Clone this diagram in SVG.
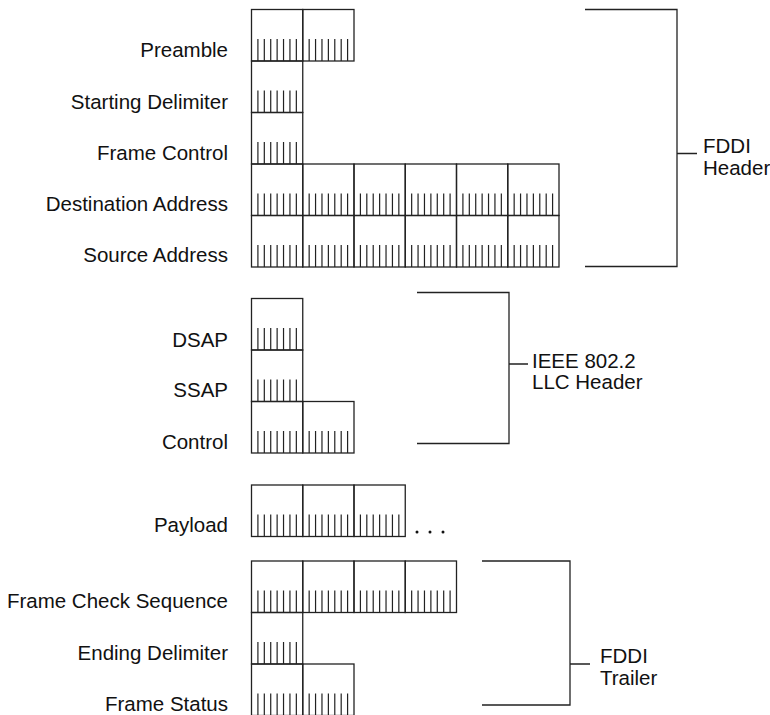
<svg xmlns="http://www.w3.org/2000/svg" xmlns:xlink="http://www.w3.org/1999/xlink" width="770" height="715" viewBox="0 0 770 715">
<style>
.lbl{font-family:"Liberation Sans",Arial,sans-serif;font-size:20.5px;fill:#111;text-anchor:end}
.br{font-family:"Liberation Sans",Arial,sans-serif;font-size:20.5px;fill:#111}
.ln{fill:none;stroke:#222;stroke-width:1.3}
.tk{fill:none;stroke:#222;stroke-width:1.2}
</style>
<defs>
<g id="byte">
<rect class="ln" x="0" y="0" width="51.25" height="51.5"/>
<path class="tk" d="M6.41,29.5V51.5M12.81,29.5V51.5M19.22,29.5V51.5M25.63,29.5V51.5M32.03,29.5V51.5M38.44,29.5V51.5M44.84,29.5V51.5"/>
</g>
</defs>
<rect width="770" height="715" fill="#fff"/>

<g id="preamble">
<text class="lbl" x="228" y="57">Preamble</text>
<use xlink:href="#byte" x="251.5" y="9.5"/><use xlink:href="#byte" x="302.75" y="9.5"/>
</g>
<g id="starting-delimiter">
<text class="lbl" x="228" y="109">Starting Delimiter</text>
<use xlink:href="#byte" x="251.5" y="61"/>
</g>
<g id="frame-control">
<text class="lbl" x="228" y="160">Frame Control</text>
<use xlink:href="#byte" x="251.5" y="112.5"/>
</g>
<g id="destination-address">
<text class="lbl" x="228" y="211">Destination Address</text>
<use xlink:href="#byte" x="251.5" y="164"/><use xlink:href="#byte" x="302.75" y="164"/><use xlink:href="#byte" x="354" y="164"/><use xlink:href="#byte" x="405.25" y="164"/><use xlink:href="#byte" x="456.5" y="164"/><use xlink:href="#byte" x="507.75" y="164"/>
</g>
<g id="source-address">
<text class="lbl" x="228" y="262">Source Address</text>
<use xlink:href="#byte" x="251.5" y="215.5"/><use xlink:href="#byte" x="302.75" y="215.5"/><use xlink:href="#byte" x="354" y="215.5"/><use xlink:href="#byte" x="405.25" y="215.5"/><use xlink:href="#byte" x="456.5" y="215.5"/><use xlink:href="#byte" x="507.75" y="215.5"/>
</g>

<g id="dsap">
<text class="lbl" x="228" y="347">DSAP</text>
<use xlink:href="#byte" x="251.5" y="298.5"/>
</g>
<g id="ssap">
<text class="lbl" x="228" y="397">SSAP</text>
<use xlink:href="#byte" x="251.5" y="350"/>
</g>
<g id="control">
<text class="lbl" x="228" y="449">Control</text>
<use xlink:href="#byte" x="251.5" y="401.5"/><use xlink:href="#byte" x="302.75" y="401.5"/>
</g>

<g id="payload">
<text class="lbl" x="228" y="532">Payload</text>
<use xlink:href="#byte" x="251.5" y="485"/><use xlink:href="#byte" x="302.75" y="485"/><use xlink:href="#byte" x="354" y="485"/>
<circle cx="417" cy="532" r="1.5" fill="#111"/><circle cx="430" cy="532" r="1.5" fill="#111"/><circle cx="443" cy="532" r="1.5" fill="#111"/>
</g>

<g id="frame-check-sequence">
<text class="lbl" x="228" y="608">Frame Check Sequence</text>
<use xlink:href="#byte" x="251.5" y="561"/><use xlink:href="#byte" x="302.75" y="561"/><use xlink:href="#byte" x="354" y="561"/><use xlink:href="#byte" x="405.25" y="561"/>
</g>
<g id="ending-delimiter">
<text class="lbl" x="228" y="660">Ending Delimiter</text>
<use xlink:href="#byte" x="251.5" y="612.5"/>
</g>
<g id="frame-status">
<text class="lbl" x="228" y="711">Frame Status</text>
<use xlink:href="#byte" x="251.5" y="664"/><use xlink:href="#byte" x="302.75" y="664"/>
</g>

<g id="connectors">
<path class="ln" d="M585,9.5H677V266.5H585M677,153.5H697"/>
<path class="ln" d="M417,292.5H509V443.5H417M509,364H528"/>
<path class="ln" d="M482,561H570V705H482M570,664H590"/>
</g>

<g id="fddi-header">
<text class="br" x="703" y="153">FDDI</text>
<text class="br" x="703" y="175">Header</text>
</g>
<g id="llc-header">
<text class="br" x="532" y="368">IEEE 802.2</text>
<text class="br" x="532" y="389">LLC Header</text>
</g>
<g id="fddi-trailer">
<text class="br" x="600" y="663">FDDI</text>
<text class="br" x="600" y="685">Trailer</text>
</g>
</svg>
